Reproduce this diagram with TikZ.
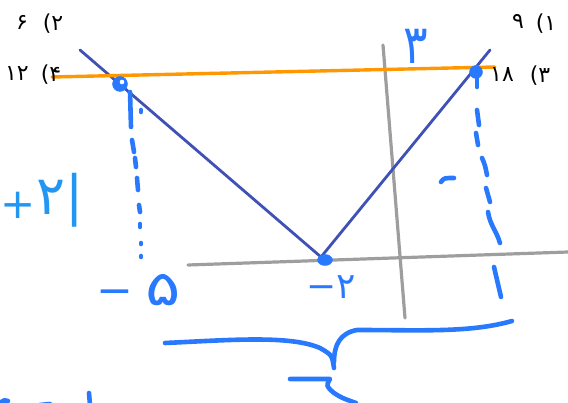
\documentclass[tikz,border=0pt]{standalone}
\usepackage{fontspec}
\usepackage{graphicx}
\usetikzlibrary{shapes.geometric}
\newfontfamily\pfont{DejaVu Sans}
\definecolor{orng}{RGB}{255,152,0}
\definecolor{indg}{RGB}{63,81,181}
\definecolor{axgray}{RGB}{158,158,158}
\definecolor{pen}{RGB}{41,121,255}
\definecolor{pentwo}{RGB}{33,150,243}
\tikzset{
  axisline/.style={draw=axgray, line width=3.2pt, line cap=round},
  graphline/.style={draw=indg, line width=2.8pt, line cap=round},
  levelline/.style={draw=orng, line width=3.4pt, line cap=round},
  penline/.style={draw=pen, line width=4.6pt, line cap=round, line join=round},
  pendot/.style={fill=pen, draw=pen},
  blacklabel/.style={inner sep=0pt, font=\pfont\fontsize{22}{24}\selectfont, text=black},
  penlabel/.style={inner sep=0pt, text=pen},
}
\begin{document}
\begin{tikzpicture}[x=1pt,y=-1pt]
\useasboundingbox (0,0) rectangle (568,403);
% axes
\draw[axisline] (188,265) -- (568,252);
\draw[axisline] (383,45) -- (405,318);
% graph lines
\coordinate (L0) at (80,50);
\coordinate (V) at (321,257);
\coordinate (R0) at (490,50);
\draw[graphline] (L0) -- (V) -- (R0);
% level line
\coordinate (O1) at (52,77);
\coordinate (O2) at (495,67);
\draw[levelline] (O1) -- (O2);
% dots
\node[pendot, circle, minimum size=15pt, inner sep=0pt] (A) at (120,84) {};
\fill[white] (122,82) circle (2.3pt);
\node[pendot, circle, minimum size=13pt, inner sep=0pt] (B) at (476,72) {};
\node[pendot, ellipse, minimum width=15pt, minimum height=11pt, inner sep=0pt] (Vd) at (325,260) {};
% left dashed drop
\draw[penline] (130,92) -- (131,127);
\draw[penline] (141,110) -- (141,112);
\draw[penline] (132,140) -- (134,152);
\draw[penline] (135,158) -- (136,167);
\draw[penline] (137,178) -- (138,190);
\draw[penline] (139,205) -- (140,212);
\draw[penline] (140,224) -- (140,227);
\draw[penline] (141,243) -- (141,244);
\draw[penline] (141,256) -- (141,257);
% right dashed drop
\draw[penline] (477,75) -- (477,87);
\draw[penline] (477,110) -- (479,125);
\draw[penline] (476,133) -- (478,145);
\draw[penline] (482,158) .. controls (485,165) .. (487,175);
\draw[penline] (486,188) -- (490,202);
\draw[penline] (488,212) .. controls (490,225) and (496,230) .. (500,243);
\draw[penline] (494,267) -- (501,297);
\draw[penline] (441,182) .. controls (444,178) .. (454,178);
% brace
\draw[penline] (165,343) .. controls (230,340) and (290,335) .. (320,348) .. controls (332,355) .. (334,368);
\draw[penline] (334,362) .. controls (334,345) and (340,333) .. (357,330) .. controls (420,330) and (470,333) .. (512,321);
% below brace
\draw[penline] (290,379) -- (330,379) .. controls (326,386) .. (334,393) .. controls (342,398) .. (356,403);
% bottom-left fragments
\draw[penline] (0,403) .. controls (4,400) .. (8,401);
\draw[penline] (40,405) -- (50,404);
\draw[penline] (89,393) -- (90,405);
% handwritten labels
\node[penlabel, font=\pfont\fontsize{54}{54}\selectfont] (three) at (416,46) {\scalebox{0.85}[1]{۳}};
\node[penlabel, text=pentwo, font=\pfont\fontsize{54}{54}\selectfont, anchor=west] (absx) at (0,200) {\raisebox{-4pt}{\fontsize{42}{42}\selectfont +}\hspace{1pt}۲|};
\node[penlabel, font=\pfont\fontsize{44}{44}\selectfont] (m5) at (139,290) {−\hspace{12pt}\scalebox{1.5}[1.1]{۵}};
\node[penlabel, font=\pfont\fontsize{36}{36}\selectfont] (m2) at (331,287) {−۲};
% black option labels
\node[blacklabel] (o2a) at (22,22) {۶};
\node[blacklabel] (o2b) at (53,24) {(۲};
\node[blacklabel] (o4a) at (17,74) {۱۲};
\node[blacklabel] (o4b) at (51,75) {(۴};
\node[blacklabel] (o1a) at (518,21) {۹};
\node[blacklabel] (o1b) at (546,24) {(۱};
\node[blacklabel] (o3a) at (502,75) {۱۸};
\node[blacklabel] (o3b) at (540,76) {(۳};
\end{tikzpicture}
\end{document}
